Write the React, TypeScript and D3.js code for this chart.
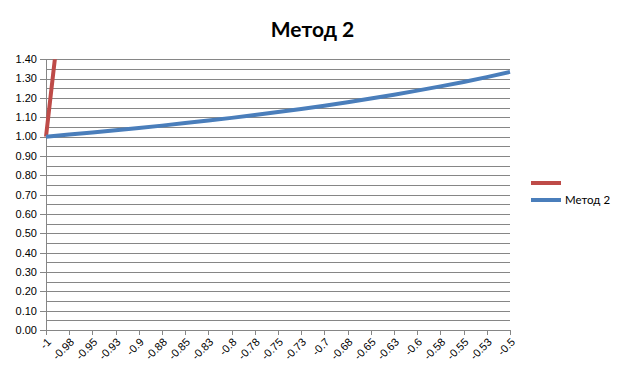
import React from "react";
import * as d3 from "d3";

const title = "Метод 2";
const xTickValues = [-1, -0.975, -0.95, -0.925, -0.9, -0.875, -0.85, -0.825, -0.8, -0.775, -0.75, -0.725, -0.7, -0.675, -0.65, -0.625, -0.6, -0.575, -0.55, -0.525, -0.5];
const xTickLabels = ["-1", "-0.98", "-0.95", "-0.93", "-0.9", "-0.88", "-0.85", "-0.83", "-0.8", "-0.78", "-0.75", "-0.73", "-0.7", "-0.68", "-0.65", "-0.63", "-0.6", "-0.58", "-0.55", "-0.53", "-0.5"];
const yTickValues = [0, 0.1, 0.2, 0.3, 0.4, 0.5, 0.6, 0.7, 0.8, 0.9, 1.0, 1.1, 1.2, 1.3, 1.4];
const yTickLabels = ["0.00", "0.10", "0.20", "0.30", "0.40", "0.50", "0.60", "0.70", "0.80", "0.90", "1.00", "1.10", "1.20", "1.30", "1.40"];
const yMinorValues = [0.05, 0.15, 0.25, 0.35, 0.45, 0.55, 0.65, 0.75, 0.85, 0.95, 1.05, 1.15, 1.25, 1.35];

// Method 2 series (blue)
const method2X = [-1, -0.975, -0.95, -0.925, -0.9, -0.875, -0.85, -0.825, -0.8, -0.775, -0.75, -0.725, -0.7, -0.675, -0.65, -0.625, -0.6, -0.575, -0.55, -0.525, -0.5];
const method2Y = [1.0, 1.011, 1.022, 1.033, 1.045, 1.057, 1.07, 1.083, 1.097, 1.112, 1.127, 1.143, 1.16, 1.178, 1.197, 1.217, 1.238, 1.26, 1.283, 1.308, 1.335];

// Unnamed series (red)
const redX = [-1, -0.995, -0.99, -0.985];
const redY = [1.0, 1.21, 1.42, 1.63];

const legendNames = ["", "Метод 2"];
const colors = ["#BE4B48", "#4A7EBB"];

export default function App() {
  const W = 624, H = 382;
  const x = d3.scaleLinear().domain([-1, -0.5]).range([46, 510]);
  const y = d3.scaleLinear().domain([0, 1.4]).range([330, 59.3]);
  const line = d3.line<[number, number]>().x(d => x(d[0])).y(d => y(d[1]));
  const blue = line(method2X.map((v, i) => [v, method2Y[i]] as [number, number])) || "";
  const red = line(redX.map((v, i) => [v, redY[i]] as [number, number])) || "";
  const grid = "#868686";
  const axisFont = "'Liberation Sans', Arial, sans-serif";
  return (
    <svg width={W} height={H} style={{ position: "absolute", left: 0, top: 0, background: "#fff" }}>
      <text x={312.5} y={37} textAnchor="middle" fontFamily="Lato, sans-serif" fontWeight="bold" fontSize={21} fill="#000">{title}</text>
      <defs>
        <clipPath id="plot">
          <rect x={40} y={y(1.4)} width={480} height={y(0) - y(1.4)} />
        </clipPath>
      </defs>
      {yMinorValues.map((v, i) => (
        <line key={"m" + i} x1={x(-1)} x2={x(-0.5)} y1={Math.round(y(v)) + 0.5} y2={Math.round(y(v)) + 0.5} stroke={grid} strokeWidth={1} />
      ))}
      {yTickValues.map((v, i) => (
        <g key={"y" + i}>
          <line x1={x(-1) - 6} x2={x(-0.5)} y1={Math.round(y(v)) + 0.5} y2={Math.round(y(v)) + 0.5} stroke={grid} strokeWidth={1} />
          <text x={37} y={y(v)} dy="0.35em" textAnchor="end" fontFamily={axisFont} fontSize={11} fill="#000">{yTickLabels[i]}</text>
        </g>
      ))}
      <line x1={x(-1) + 0.5} x2={x(-1) + 0.5} y1={y(1.4)} y2={y(0)} stroke={grid} strokeWidth={1} />
      {xTickValues.map((v, i) => (
        <g key={"x" + i}>
          <line x1={Math.round(x(v)) + 0.5} x2={Math.round(x(v)) + 0.5} y1={y(0)} y2={y(0) + 5} stroke={grid} strokeWidth={1} />
          <text transform={`translate(${x(v) + 3},${y(0) + 10}) rotate(-45)`} textAnchor="end" dy="0.35em" fontFamily={axisFont} fontSize={11} fill="#000">{xTickLabels[i]}</text>
        </g>
      ))}
      <g clipPath="url(#plot)">
        <path d={red} fill="none" stroke={colors[0]} strokeWidth={4} strokeLinejoin="round" />
        <path d={blue} fill="none" stroke={colors[1]} strokeWidth={4} strokeLinejoin="round" />
      </g>
      {legendNames.map((n, i) => (
        <g key={"l" + i}>
          <line x1={531} x2={561} y1={183 + i * 17} y2={183 + i * 17} stroke={colors[i]} strokeWidth={4} />
          <text x={565} y={183 + i * 17} dy="0.35em" fontFamily="Lato, sans-serif" fontSize={11.5} fill="#000">{n}</text>
        </g>
      ))}
    </svg>
  );
}
